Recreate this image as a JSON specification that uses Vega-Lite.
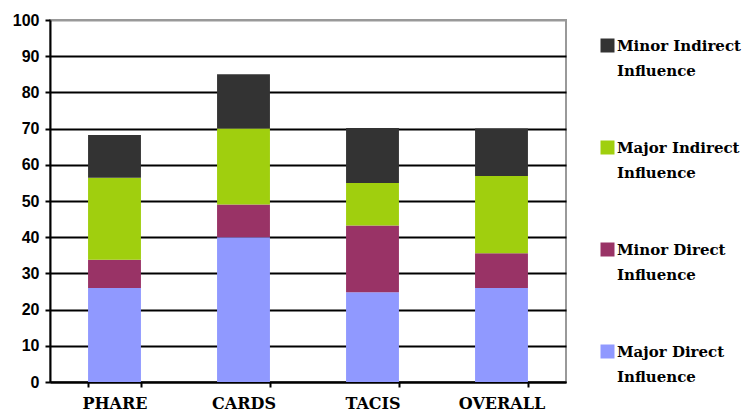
{
  "$schema": "https://vega.github.io/schema/vega-lite/v6.json",
  "width": 516,
  "height": 362,
  "autosize": {"type": "none"},
  "padding": {"left": 50, "top": 20, "right": 190, "bottom": 30},
  "background": "white",
  "config": {
    "view": {"stroke": "#999999", "strokeWidth": 2},
    "font": "Liberation Sans",
    "style": {"guide-label": {"lineHeight": 25, "dy": 5}}
  },
  "data": {
    "values": [
      {"program": "PHARE", "influence": "Major Direct Influence", "value": 26, "rank": 1},
      {"program": "PHARE", "influence": "Minor Direct Influence", "value": 7.8, "rank": 2},
      {"program": "PHARE", "influence": "Major Indirect Influence", "value": 22.6, "rank": 3},
      {"program": "PHARE", "influence": "Minor Indirect Influence", "value": 11.8, "rank": 4},
      {"program": "CARDS", "influence": "Major Direct Influence", "value": 40, "rank": 1},
      {"program": "CARDS", "influence": "Minor Direct Influence", "value": 9, "rank": 2},
      {"program": "CARDS", "influence": "Major Indirect Influence", "value": 21, "rank": 3},
      {"program": "CARDS", "influence": "Minor Indirect Influence", "value": 15, "rank": 4},
      {"program": "TACIS", "influence": "Major Direct Influence", "value": 24.8, "rank": 1},
      {"program": "TACIS", "influence": "Minor Direct Influence", "value": 18.4, "rank": 2},
      {"program": "TACIS", "influence": "Major Indirect Influence", "value": 11.8, "rank": 3},
      {"program": "TACIS", "influence": "Minor Indirect Influence", "value": 15.2, "rank": 4},
      {"program": "OVERALL", "influence": "Major Direct Influence", "value": 26, "rank": 1},
      {"program": "OVERALL", "influence": "Minor Direct Influence", "value": 9.6, "rank": 2},
      {"program": "OVERALL", "influence": "Major Indirect Influence", "value": 21.3, "rank": 3},
      {"program": "OVERALL", "influence": "Minor Indirect Influence", "value": 13.1, "rank": 4}
    ]
  },
  "mark": {"type": "bar", "stroke": null},
  "encoding": {
    "x": {
      "field": "program",
      "type": "nominal",
      "sort": ["PHARE", "CARDS", "TACIS", "OVERALL"],
      "scale": {"paddingInner": 0.59, "paddingOuter": 0.295},
      "axis": {
        "title": null,
        "labelAngle": 0,
        "labelFont": "DejaVu Serif",
        "labelFontWeight": "bold",
        "labelFontSize": 16,
        "labelColor": "black",
        "labelBaseline": "top",
        "labelPadding": 3,
        "tickBand": "extent",
        "ticks": true,
        "tickColor": "black",
        "tickWidth": 2,
        "tickSize": 5,
        "domainColor": "black",
        "domainWidth": 2,
        "grid": false
      }
    },
    "y": {
      "field": "value",
      "type": "quantitative",
      "stack": "zero",
      "scale": {"domain": [0, 100], "nice": false},
      "axis": {
        "title": null,
        "values": [0, 10, 20, 30, 40, 50, 60, 70, 80, 90, 100],
        "labelFont": "Liberation Sans",
        "labelFontWeight": 700,
        "labelFontSize": 16,
        "labelColor": "black",
        "labelBaseline": "alphabetic",
        "labelPadding": 6,
        "tickColor": "black",
        "tickWidth": 2,
        "tickSize": 5,
        "domainColor": "black",
        "domainWidth": 2,
        "grid": true,
        "gridColor": {"condition": {"test": "datum.value == 100", "value": "#999999"}, "value": "black"},
        "gridWidth": 2,
        "gridOpacity": 1
      }
    },
    "color": {
      "field": "influence",
      "type": "nominal",
      "scale": {
        "domain": ["Minor Indirect Influence", "Major Indirect Influence", "Minor Direct Influence", "Major Direct Influence"],
        "range": ["#333333", "#A0CF0E", "#993366", "#9099FF"]
      },
      "legend": {
        "title": null,
        "orient": "none",
        "legendX": 550,
        "legendY": 18,
        "padding": 0,
        "symbolType": "square",
        "symbolSize": 196,
        "symbolStrokeWidth": 0,
        "symbolOpacity": 1,
        "labelFont": "DejaVu Serif",
        "labelFontWeight": "bold",
        "labelFontSize": 15,
        "labelColor": "black",
        "labelLimit": 300,
        "labelOffset": 2,
        "labelBaseline": "alphabetic",
        "rowPadding": 61,
        "labelExpr": "[replace(datum.label, ' Influence', ''), 'Influence']"
      }
    },
    "order": {"field": "rank", "type": "quantitative"}
  }
}
